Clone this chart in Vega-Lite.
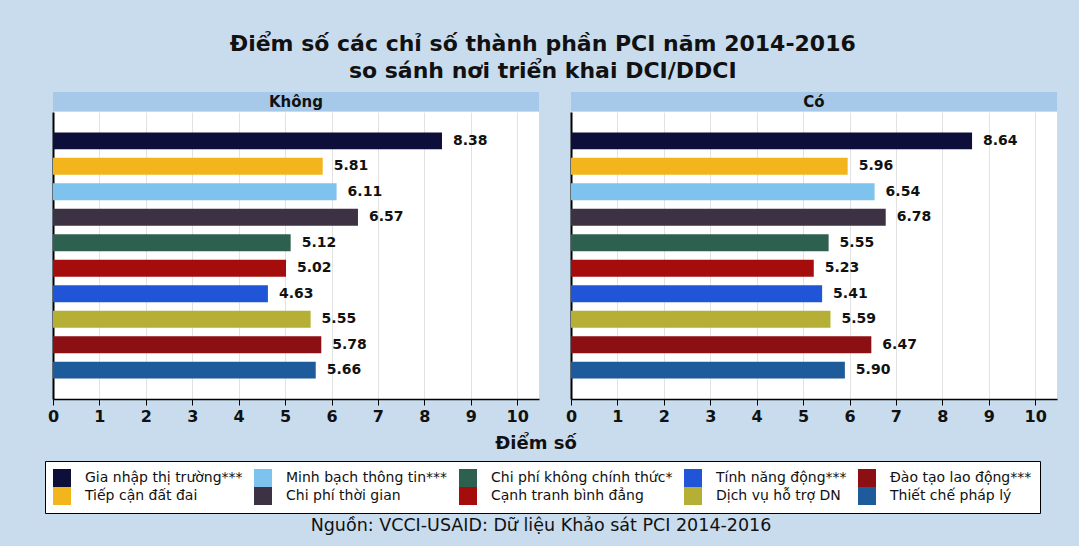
{
  "$schema": "https://vega.github.io/schema/vega-lite/v6.json",
  "background": "#c9dcee",
  "padding": {"left": 44, "top": 33, "right": 29, "bottom": 10},
  "title": {
    "text": ["Điểm số các chỉ số thành phần PCI năm 2014-2016", "so sánh nơi triển khai DCI/DDCI"],
    "font": "DejaVu Sans",
    "fontSize": 22,
    "fontWeight": "bold",
    "color": "#111111",
    "lineHeight": 27,
    "anchor": "middle",
    "dx": -8,
    "offset": 9
  },
  "data": {
    "values": [
      {"group": "Không", "indicator": "Gia nhập thị trường***", "value": 8.38},
      {"group": "Không", "indicator": "Tiếp cận đất đai", "value": 5.81},
      {"group": "Không", "indicator": "Minh bạch thông tin***", "value": 6.11},
      {"group": "Không", "indicator": "Chi phí thời gian", "value": 6.57},
      {"group": "Không", "indicator": "Chi phí không chính thức*", "value": 5.12},
      {"group": "Không", "indicator": "Cạnh tranh bình đẳng", "value": 5.02},
      {"group": "Không", "indicator": "Tính năng động***", "value": 4.63},
      {"group": "Không", "indicator": "Dịch vụ hỗ trợ DN", "value": 5.55},
      {"group": "Không", "indicator": "Đào tạo lao động***", "value": 5.78},
      {"group": "Không", "indicator": "Thiết chế pháp lý", "value": 5.66},
      {"group": "Có", "indicator": "Gia nhập thị trường***", "value": 8.64},
      {"group": "Có", "indicator": "Tiếp cận đất đai", "value": 5.96},
      {"group": "Có", "indicator": "Minh bạch thông tin***", "value": 6.54},
      {"group": "Có", "indicator": "Chi phí thời gian", "value": 6.78},
      {"group": "Có", "indicator": "Chi phí không chính thức*", "value": 5.55},
      {"group": "Có", "indicator": "Cạnh tranh bình đẳng", "value": 5.23},
      {"group": "Có", "indicator": "Tính năng động***", "value": 5.41},
      {"group": "Có", "indicator": "Dịch vụ hỗ trợ DN", "value": 5.59},
      {"group": "Có", "indicator": "Đào tạo lao động***", "value": 6.47},
      {"group": "Có", "indicator": "Thiết chế pháp lý", "value": 5.90}
    ]
  },
  "vconcat": [
    {
      "hconcat": [
        {
          "spacing": 1,
          "vconcat": [
            {
              "width": 486, "height": 19,
              "view": {"fill": "#a6c9ea", "stroke": null},
              "data": {"values": [{"h": "Không"}]},
              "mark": {"type": "text", "font": "DejaVu Sans", "fontSize": 15, "fontWeight": "bold", "color": "#111111"},
              "encoding": {"text": {"field": "h"}}
            },
            {
              "width": 486, "height": 287,
              "view": {"fill": "#ffffff", "stroke": null},
              "transform": [{"filter": "datum.group === 'Không'"}],
              "encoding": {
                "y": {"field": "indicator", "type": "nominal",
                  "sort": ["Gia nhập thị trường***", "Tiếp cận đất đai", "Minh bạch thông tin***", "Chi phí thời gian", "Chi phí không chính thức*", "Cạnh tranh bình đẳng", "Tính năng động***", "Dịch vụ hỗ trợ DN", "Đào tạo lao động***", "Thiết chế pháp lý"],
                  "scale": {"paddingInner": 0.333, "paddingOuter": 0.8},
                  "axis": {"labels": false, "ticks": false, "title": null, "domainColor": "#000000", "domainWidth": 2}},
                "x": {"field": "value", "type": "quantitative",
                  "scale": {"domain": [0, 10.47], "nice": false},
                  "axis": {"values": [0,1,2,3,4,5,6,7,8,9,10], "title": null, "labelFont": "DejaVu Sans", "labelFontSize": 16, "labelFontWeight": "bold", "labelColor": "#111111", "tickColor": "#000000", "tickSize": 6, "domainColor": "#000000", "domainWidth": 1.5, "gridColor": "#e2e2e2", "labelPadding": 3, "labelFlush": false}}
              },
              "layer": [
                {"mark": {"type": "bar"},
                  "encoding": {"color": {"field": "indicator", "type": "nominal",
                    "scale": {
                      "domain": ["Gia nhập thị trường***", "Minh bạch thông tin***", "Chi phí không chính thức*", "Tính năng động***", "Đào tạo lao động***", "Tiếp cận đất đai", "Chi phí thời gian", "Cạnh tranh bình đẳng", "Dịch vụ hỗ trợ DN", "Thiết chế pháp lý"],
                      "range": ["#0d0f3a", "#7ec3ee", "#2e6050", "#1f55d6", "#8c0f14", "#f2b51c", "#3d3243", "#a50d0d", "#b5b035", "#1d5b9a"]},
                    "legend": {"orient": "none", "legendX": -8, "legendY": 369, "direction": "horizontal", "columns": 5, "title": null,
                      "symbolType": "square", "symbolSize": 324, "symbolStrokeWidth": 0, "symbolOpacity": 1,
                      "labelFont": "DejaVu Sans", "labelFontSize": 14, "labelColor": "#111111", "labelOffset": 14, "labelLimit": 400,
                      "strokeColor": "#000000", "fillColor": "#ffffff", "padding": 8, "columnPadding": 11, "rowPadding": 0}}}},
                {"mark": {"type": "text", "align": "left", "dx": 11, "font": "DejaVu Sans", "fontSize": 14, "fontWeight": "bold", "color": "#111111"},
                  "encoding": {"text": {"field": "value", "type": "quantitative", "format": ".2f"}}}
              ]
            }
          ]
        },
        {
          "spacing": 1,
          "vconcat": [
            {
              "width": 486, "height": 19,
              "view": {"fill": "#a6c9ea", "stroke": null},
              "data": {"values": [{"h": "Có"}]},
              "mark": {"type": "text", "font": "DejaVu Sans", "fontSize": 15, "fontWeight": "bold", "color": "#111111"},
              "encoding": {"text": {"field": "h"}}
            },
            {
              "width": 486, "height": 287,
              "view": {"fill": "#ffffff", "stroke": null},
              "transform": [{"filter": "datum.group === 'Có'"}],
              "encoding": {
                "y": {"field": "indicator", "type": "nominal",
                  "sort": ["Gia nhập thị trường***", "Tiếp cận đất đai", "Minh bạch thông tin***", "Chi phí thời gian", "Chi phí không chính thức*", "Cạnh tranh bình đẳng", "Tính năng động***", "Dịch vụ hỗ trợ DN", "Đào tạo lao động***", "Thiết chế pháp lý"],
                  "scale": {"paddingInner": 0.333, "paddingOuter": 0.8},
                  "axis": {"labels": false, "ticks": false, "title": null, "domainColor": "#000000", "domainWidth": 2}},
                "x": {"field": "value", "type": "quantitative",
                  "scale": {"domain": [0, 10.47], "nice": false},
                  "axis": {"values": [0,1,2,3,4,5,6,7,8,9,10], "title": null, "labelFont": "DejaVu Sans", "labelFontSize": 16, "labelFontWeight": "bold", "labelColor": "#111111", "tickColor": "#000000", "tickSize": 6, "domainColor": "#000000", "domainWidth": 1.5, "gridColor": "#e2e2e2", "labelPadding": 3, "labelFlush": false}}
              },
              "layer": [
                {"mark": {"type": "bar"},
                  "encoding": {"color": {"field": "indicator", "type": "nominal"}}},
                {"mark": {"type": "text", "align": "left", "dx": 11, "font": "DejaVu Sans", "fontSize": 14, "fontWeight": "bold", "color": "#111111"},
                  "encoding": {"text": {"field": "value", "type": "quantitative", "format": ".2f"}}}
              ]
            }
          ]
        }
      ],
      "spacing": 26
    },
    {
      "spacing": 62,
      "vconcat": [
        {
          "width": 966, "height": 20,
          "view": {"fill": null, "stroke": null},
          "data": {"values": [{"t": "Điểm số"}]},
          "mark": {"type": "text", "font": "DejaVu Sans", "fontSize": 18, "fontWeight": "bold", "color": "#111111"},
          "encoding": {"text": {"field": "t"}}
        },
        {
          "width": 976, "height": 20,
          "view": {"fill": null, "stroke": null},
          "data": {"values": [{"t": "Nguồn: VCCI-USAID: Dữ liệu Khảo sát PCI 2014-2016"}]},
          "mark": {"type": "text", "font": "DejaVu Sans", "fontSize": 17.5, "color": "#111111"},
          "encoding": {"text": {"field": "t"}}
        }
      ]
    }
  ],
  "spacing": 10,
  "config": {"view": {"stroke": null}}
}
